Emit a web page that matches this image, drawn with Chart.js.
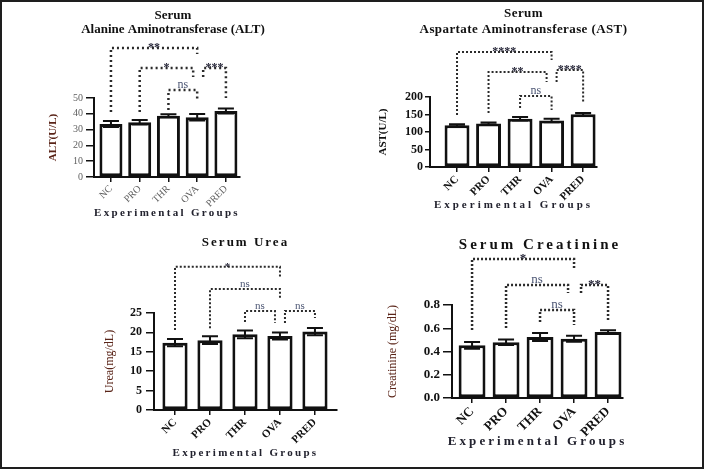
<!DOCTYPE html>
<html lang="en">
<head>
<meta charset="UTF-8">
<title>Serum ALT, AST, Urea and Creatinine</title>
<script src="https://cdn.jsdelivr.net/npm/chart.js@4.4.1/dist/chart.umd.min.js"></script>
<style>
  body { margin: 0; background: #fff; }
  #wrap { position: relative; width: 706px; height: 470px; overflow: hidden; }
  #frame { position: absolute; left: 0; top: 0; width: 700px; height: 465px; border: 2px solid #1e1e1e; pointer-events: none; }
  .panel { position: absolute; }
</style>
</head>
<body>
<div id="wrap">
  <div class="panel" style="left:20px;top:0px"><canvas id="alt" width="260" height="230"></canvas></div>
  <div class="panel" style="left:370px;top:0px"><canvas id="ast" width="280" height="230"></canvas></div>
  <div class="panel" style="left:50px;top:230px"><canvas id="urea" width="300" height="240"></canvas></div>
  <div class="panel" style="left:380px;top:230px"><canvas id="crea" width="290" height="240"></canvas></div>
  <div id="frame"></div>
</div>

<script>
const groups = ['NC', 'PRO', 'THR', 'OVA', 'PRED'];

// ALT (U/L)
const altMean = [33.5, 34.6, 38.8, 37.8, 41.8];
const altErr = [1.9, 1.4, 0.9, 2.0, 1.6];
const altTicks = [0, 10, 20, 30, 40, 50];
const altSig = [
  { a: 0, b: 3, top: 81.6, dropA: 41.1, dropB: 77.8, text: '**' },
  { a: 1, b: 3, top: 69, dropA: 41.1, dropB: 63.3, text: '*', nb: -4 },
  { a: 3, b: 4, top: 69, dropA: 63.3, dropB: 50, text: '***', na: 6 },
  { a: 2, b: 3, top: 55, dropA: 42.4, dropB: 48.7, text: 'ns' }
];

// AST (U/L)
const astMean = [119, 124, 138, 133, 150.5];
const astErr = [3, 3, 5, 5, 4];
const astTicks = [0, 50, 100, 150, 200];
const astSig = [
  { a: 0, b: 3, top: 328.6, dropA: 148.6, dropB: 305.7, text: '****' },
  { a: 1, b: 3, top: 271.4, dropA: 154.3, dropB: 242.9, text: '**', nb: -5 },
  { a: 3, b: 4, top: 277, dropA: 243, dropB: 185.7, text: '****', na: 5 },
  { a: 2, b: 3, top: 202.9, dropA: 168.6, dropB: 162.9, text: 'ns' }
];

// Urea (mg/dL)
const ureaMean = [17.35, 18.0, 19.5, 19.07, 20.2];
const ureaErr = [0.95, 1.0, 1.0, 0.9, 0.95];
const ureaTicks = [0, 5, 10, 15, 20, 25];
const ureaSig = [
  { a: 0, b: 3, top: 36.9, dropA: 20.6, dropB: 34, text: '*' },
  { a: 1, b: 3, top: 31.2, dropA: 21.1, dropB: 28.9, text: 'ns' },
  { a: 2, b: 3, top: 25.5, dropA: 22.7, dropB: 22.4, text: 'ns', nb: -5 },
  { a: 3, b: 4, top: 25.5, dropA: 22.4, dropB: 23.7, text: 'ns', na: 5 }
];

// Creatinine (mg/dL)
const creaMean = [0.453, 0.479, 0.525, 0.51, 0.568];
const creaErr = [0.029, 0.024, 0.034, 0.026, 0.014];
const creaTicks = [0, 0.2, 0.4, 0.6, 0.8];
const creaSig = [
  { a: 0, b: 3, top: 1.196, dropA: 0.585, dropB: 1.118, text: '*' },
  { a: 1, b: 3, top: 0.972, dropA: 0.602, dropB: 0.903, text: 'ns', nb: -6 },
  { a: 2, b: 3, top: 0.757, dropA: 0.654, dropB: 0.628, text: 'ns' },
  { a: 3, b: 4, top: 0.972, dropA: 0.903, dropB: 0.671, text: '**', na: 7 }
];

const SERIF = "'Liberation Serif', 'DejaVu Serif', serif";

// letter spacing (and a bit more room) for the chart title and the x axis title
const spacing = {
  id: 'spacing',
  afterLayout(chart, args, o) {
    const wrap = (obj, key, px, widen, shift) => {
      if (!obj || obj['_sp_' + key]) return;
      const f = obj[key];
      obj[key] = function (...a) {
        const l = this.left, r = this.right;
        this.left = l - widen + shift;
        this.right = r + widen + shift;
        chart.ctx.save();
        chart.ctx.letterSpacing = px + 'px';
        f.apply(this, a);
        chart.ctx.restore();
        this.left = l;
        this.right = r;
      };
      obj['_sp_' + key] = true;
    };
    wrap(chart.titleBlock, 'draw', o.title, 50, o.shift);
    wrap(chart.scales.x, 'drawTitle', o.axis, 20, 0);
  }
};

// error bars and significance brackets
const annotate = {
  id: 'annotate',
  afterDatasetsDraw(chart, args, o) {
    const { ctx, scales: { x, y } } = chart;
    const bars = chart.getDatasetMeta(0).data;
    const pts = chart.data.datasets[0].data;
    ctx.save();
    ctx.strokeStyle = '#111';
    ctx.lineWidth = 2;
    o.errors.forEach((e, i) => {
      const cx = bars[i].x;
      const t = y.getPixelForValue(pts[i].y + e);
      const b = y.getPixelForValue(pts[i].y - e);
      ctx.beginPath();
      ctx.moveTo(cx, t); ctx.lineTo(cx, b);
      ctx.moveTo(cx - o.cap, t); ctx.lineTo(cx + o.cap, t);
      ctx.moveTo(cx - o.cap, b); ctx.lineTo(cx + o.cap, b);
      ctx.stroke();
    });

    ctx.setLineDash(o.dash);
    ctx.lineWidth = o.dotWidth;
    ctx.strokeStyle = '#2b2b2b';
    const ends = s => [x.getPixelForValue(s.a) + (s.na || 0), x.getPixelForValue(s.b) + (s.nb || 0), y.getPixelForValue(s.top)];
    o.sig.forEach(s => {
      const [xa, xb, top] = ends(s);
      ctx.beginPath();
      ctx.moveTo(xa, y.getPixelForValue(s.dropA));
      ctx.lineTo(xa, top);
      ctx.lineTo(xb, top);
      ctx.lineTo(xb, y.getPixelForValue(s.dropB));
      ctx.stroke();
    });
    ctx.setLineDash([]);

    ctx.textAlign = 'center';
    ctx.textBaseline = 'alphabetic';
    o.sig.forEach(s => {
      const [xa, xb, top] = ends(s);
      const ns = s.text === 'ns';
      ctx.font = (ns ? '' : 'bold ') + o.sigSize + 'px ' + SERIF;
      ctx.fillStyle = ns ? '#4b5573' : '#262638';
      ctx.fillText(s.text, (xa + xb) / 2, top + (ns ? -2 : 3));
    });
    ctx.restore();
  }
};

function panel(id, mean, err, ticks, sig, st) {
  return new Chart(document.getElementById(id), {
    type: 'bar',
    data: {
      datasets: [{
        data: mean.map((v, i) => ({ x: i, y: v })),
        backgroundColor: '#fff',
        borderColor: '#111',
        borderWidth: 3,
        borderSkipped: false,
        barPercentage: st.bar,
        categoryPercentage: 1
      }]
    },
    options: {
      responsive: false,
      animation: false,
      layout: { padding: st.pad },
      plugins: {
        legend: { display: false },
        tooltip: { enabled: false },
        title: {
          display: true, text: st.title, color: '#111', fullSize: false,
          font: { family: SERIF, size: st.titleSize, weight: 'bold', lineHeight: st.titleLh },
          padding: st.titlePad
        },
        spacing: { title: st.titleSpacing, axis: st.axisSpacing, shift: st.titleShift },
        annotate: { errors: err, sig: sig, cap: st.cap, dash: st.dash, dotWidth: st.dotWidth, sigSize: st.sigSize }
      },
      scales: {
        x: {
          type: 'linear', min: st.xMin, max: st.xMax, offset: false,
          afterBuildTicks: a => { a.ticks = groups.map((g, i) => ({ value: i })); },
          afterFit: a => { a.height = st.xH; },
          ticks: {
            callback: v => groups[v], autoSkip: false, maxRotation: 45, minRotation: 45,
            font: { family: SERIF, size: st.xSize, weight: st.xWeight }, color: st.tickColor, padding: 1
          },
          grid: { display: true, offset: false, drawOnChartArea: false, tickLength: 5, color: '#111', lineWidth: 1.5 },
          border: { color: '#111', width: 2 },
          title: {
            display: true, text: 'Experimental Groups', color: '#22222e',
            font: { family: SERIF, size: st.xTitleSize, weight: 'bold', lineHeight: 1.2 },
            padding: { top: 0, bottom: st.xTitlePad }
          }
        },
        y: {
          min: 0, max: ticks[ticks.length - 1],
          afterBuildTicks: a => { a.ticks = ticks.map(v => ({ value: v })); },
          afterFit: a => { a.width = st.yW; },
          ticks: {
            callback: st.fmt, font: { family: SERIF, size: st.ySize, weight: st.yWeight },
            color: st.tickColor, padding: st.yTickPad
          },
          grid: { display: true, drawOnChartArea: false, tickLength: st.yTickLen, color: '#111', lineWidth: 1.5 },
          border: { color: '#111', width: 2 },
          title: {
            display: true, text: st.yTitle, color: st.yTitleColor,
            font: { family: SERIF, size: st.yTitleSize, weight: st.yTitleWeight, lineHeight: 1.2 },
            padding: { top: st.yTitlePad, bottom: 0 }
          }
        }
      }
    },
    plugins: [spacing, annotate]
  });
}

panel('alt', altMean, altErr, altTicks, altSig, {
  pad: { left: 20, right: 40, top: 0, bottom: 0 }, yW: 54, xH: 53,
  title: ['Serum', 'Alanine Aminotransferase (ALT)'], titleSize: 13, titleLh: 1.1,
  titlePad: { top: 8, bottom: 61.4 }, titleSpacing: 0, axisSpacing: 2.3, titleShift: 6,
  xMin: -0.59, xMax: 4.49, bar: 0.8, cap: 8, dash: [2, 3], dotWidth: 2.5, sigSize: 12,
  xSize: 10, xWeight: 'normal', tickColor: '#5e5e5e', xTitleSize: 11, xTitlePad: 10.4,
  ySize: 10, yWeight: 'normal', yTickPad: 3, yTickLen: 8, fmt: v => String(v),
  yTitle: 'ALT(U/L)', yTitleSize: 11, yTitleWeight: 'bold', yTitleColor: '#5a2418', yTitlePad: 6.4
});

panel('ast', astMean, astErr, astTicks, astSig, {
  pad: { left: 4, right: 53, top: 0, bottom: 0 }, yW: 56, xH: 63,
  title: ['Serum', 'Aspartate Aminotransferase (AST)'], titleSize: 13, titleLh: 1.2,
  titlePad: { top: 6, bottom: 59.8 }, titleSpacing: 0.4, axisSpacing: 3, titleShift: 10,
  xMin: -0.857, xMax: 4.44, bar: 0.79, cap: 8, dash: [2, 2], dotWidth: 2, sigSize: 12,
  xSize: 11, xWeight: 'bold', tickColor: '#111', xTitleSize: 11, xTitlePad: 18.4,
  ySize: 12, yWeight: 'bold', yTickPad: 2, yTickLen: 5, fmt: v => String(v),
  yTitle: 'AST(U/L)', yTitleSize: 11, yTitleWeight: 'bold', yTitleColor: '#111', yTitlePad: 2.4
});

panel('urea', ureaMean, ureaErr, ureaTicks, ureaSig, {
  pad: { left: 50, right: 13, top: 0, bottom: 0 }, yW: 54, xH: 60,
  title: 'Serum Urea', titleSize: 13, titleLh: 1.2,
  titlePad: { top: 5, bottom: 62.4 }, titleSpacing: 2, axisSpacing: 2.3, titleShift: 0,
  xMin: -0.6, xMax: 4.63, bar: 0.72, cap: 8, dash: [2, 2], dotWidth: 2, sigSize: 11,
  xSize: 11, xWeight: 'bold', tickColor: '#111', xTitleSize: 11, xTitlePad: 10.4,
  ySize: 12, yWeight: 'bold', yTickPad: 4, yTickLen: 8, fmt: v => String(v),
  yTitle: 'Urea(mg/dL)', yTitleSize: 12, yTitleWeight: 'normal', yTitleColor: '#5a2418', yTitlePad: 2.8
});

panel('crea', creaMean, creaErr, creaTicks, creaSig, {
  pad: { left: 2, right: 47, top: 0, bottom: 0 }, yW: 70, xH: 72,
  title: 'Serum Creatinine', titleSize: 15, titleLh: 1.2,
  titlePad: { top: 6, bottom: 51 }, titleSpacing: 3, axisSpacing: 3.1, titleShift: 2.5,
  xMin: -0.59, xMax: 4.44, bar: 0.79, cap: 8, dash: [2, 2], dotWidth: 2.5, sigSize: 13,
  xSize: 13, xWeight: 'bold', tickColor: '#111', xTitleSize: 13, xTitlePad: 20.2,
  ySize: 13, yWeight: 'bold', yTickPad: 3, yTickLen: 9, fmt: v => v.toFixed(1),
  yTitle: 'Creatinine (mg/dL)', yTitleSize: 12, yTitleWeight: 'normal', yTitleColor: '#5a2418', yTitlePad: 3.8
});
</script>
</body>
</html>
